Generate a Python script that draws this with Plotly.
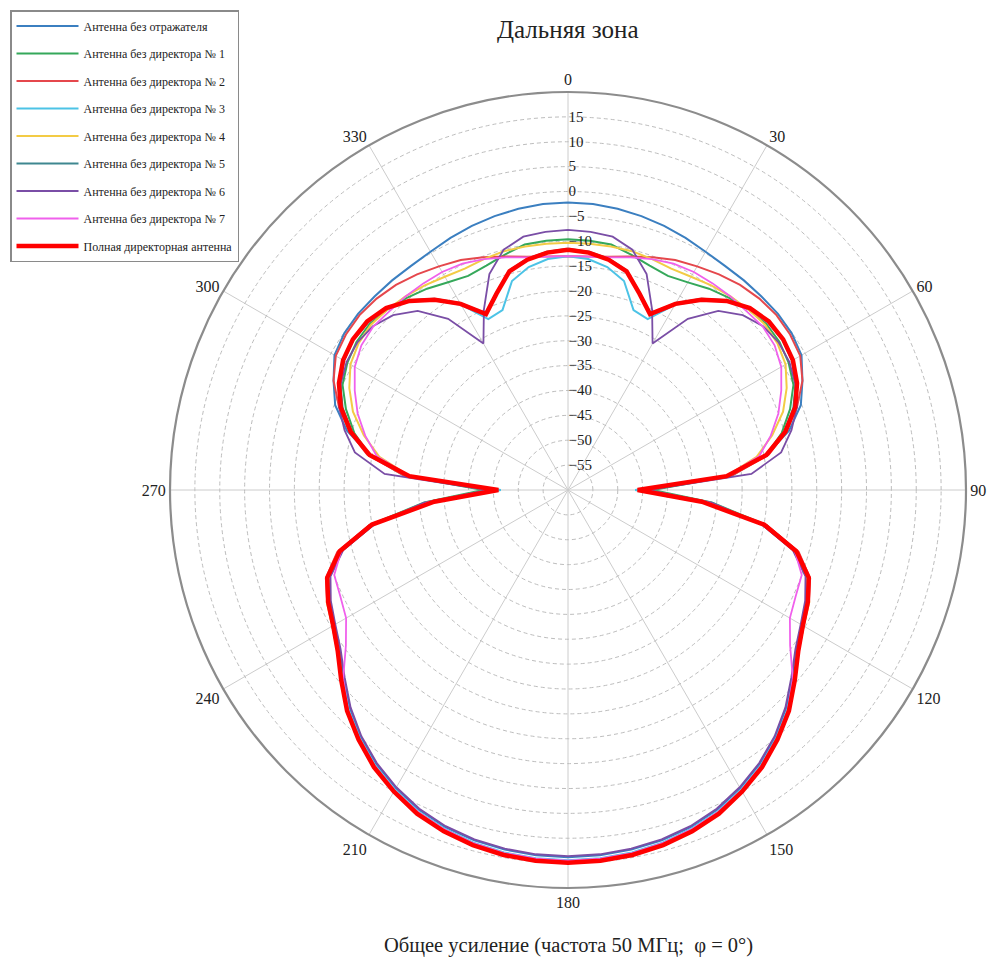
import plotly.graph_objects as go

# Angles (degrees) for right half of the pattern, 0..180 (pattern is symmetric)
ANGLES = list(range(0, 181, 5))

NAMES = [
    "Антенна без отражателя",
    "Антенна без директора № 1",
    "Антенна без директора № 2",
    "Антенна без директора № 3",
    "Антенна без директора № 4",
    "Антенна без директора № 5",
    "Антенна без директора № 6",
    "Антенна без директора № 7",
    "Полная директорная антенна",
]

NO_REFL = [-2.2, -2.3, -2.6, -3.0, -3.5, -4.1, -4.7, -5.0, -5.0, -5.0, -4.9, -5.1, -5.8, -8.0, -10.2, -14.0, -19.5, -28.0, -45.0,
           -32.0, -20.5, -13.0, -9.0, -7.2, -5.8, -4.0, -1.2, 2.0, 4.8, 7.2, 9.2, 10.9, 12.1, 12.9, 13.4, 13.7, 13.8]
DIR1 = [-9.6, -9.7, -9.9, -11.0, -12.0, -12.5, -11.8, -10.6, -9.6, -8.7, -8.0, -8.1, -8.8, -10.0, -12.5, -15.5, -19.5, -27.0, -43.0,
        -31.0, -19.5, -12.3, -8.5, -6.8, -5.5, -3.6, -0.7, 2.6, 5.3, 7.8, 9.8, 11.5, 12.7, 13.6, 14.2, 14.5, 14.6]
DIR2 = [-13.0, -12.9, -12.4, -11.4, -10.2, -9.0, -8.1, -7.1, -6.2, -5.6, -5.3, -5.5, -6.1, -8.0, -11.0, -14.5, -19.0, -27.0, -45.0,
        -32.0, -19.5, -12.0, -8.2, -6.6, -5.3, -3.4, -0.5, 2.8, 5.5, 8.0, 10.0, 11.7, 12.9, 13.8, 14.4, 14.7, 14.8]
DIR3 = [-13.0, -13.4, -14.5, -16.5, -21.5, -22.1, -17.0, -13.5, -10.5, -8.6, -7.6, -7.4, -8.0, -9.5, -11.6, -15.0, -19.8, -28.0, -46.5,
        -33.0, -20.5, -12.8, -8.8, -7.0, -5.7, -3.7, -0.8, 2.4, 5.1, 7.6, 9.6, 11.3, 12.5, 13.4, 14.0, 14.3, 14.4]
DIR4 = [-10.3, -10.3, -10.3, -10.3, -10.6, -10.9, -10.5, -9.8, -9.2, -8.7, -8.3, -8.6, -9.5, -11.5, -14.0, -17.5, -21.5, -28.0, -44.0,
        -31.5, -20.0, -12.8, -8.8, -6.5, -5.3, -3.5, -0.6, 2.6, 5.3, 7.8, 9.8, 11.5, 12.7, 13.6, 14.2, 14.5, 14.6]
DIR5 = [-11.5, -11.9, -12.8, -14.3, -17.8, -20.8, -16.6, -13.1, -10.2, -8.2, -7.3, -7.3, -8.0, -9.5, -11.8, -15.0, -19.5, -27.5, -44.0,
        -32.5, -20.0, -12.6, -8.6, -6.9, -5.6, -3.6, -0.7, 2.6, 5.3, 7.8, 9.8, 11.6, 12.8, 13.7, 14.3, 14.6, 14.7]
DIR6 = [-7.7, -7.9, -8.3, -10.0, -13.8, -20.0, -26.0, -18.0, -13.0, -10.3, -8.8, -8.3, -8.6, -9.6, -11.0, -13.5, -16.5, -23.0, -44.0,
        -31.0, -20.5, -13.2, -9.2, -7.4, -6.0, -4.2, -1.4, 1.8, 4.6, 7.0, 9.0, 10.7, 11.9, 12.7, 13.2, 13.5, 13.6]
DIR7 = [-13.0, -12.9, -12.5, -11.6, -10.6, -9.8, -9.4, -9.3, -9.2, -9.2, -8.9, -9.3, -10.5, -12.7, -15.0, -17.8, -21.0, -28.0, -45.0,
        -32.0, -20.0, -12.8, -10.0, -9.5, -8.5, -5.5, -1.0, 2.5, 5.2, 7.7, 9.7, 11.4, 12.6, 13.5, 14.1, 14.4, 14.5]
FULL = [-11.7, -12.1, -13.0, -14.5, -18.0, -21.0, -16.8, -13.3, -10.4, -8.3, -7.3, -7.2, -7.8, -9.2, -11.4, -14.8, -19.5, -28.0, -46.0,
        -33.0, -20.0, -12.5, -8.5, -6.8, -5.5, -3.5, -0.5, 2.8, 5.5, 8.0, 10.0, 11.8, 13.0, 13.9, 14.5, 14.8, 14.9]

SERIES = [NO_REFL, DIR1, DIR2, DIR3, DIR4, DIR5, DIR6, DIR7, FULL]
COLORS = ["#3b7fc0", "#35a85a", "#e5474c", "#4cc3e6", "#f3cb45", "#3f8790", "#7a4ea6", "#f060ec", "#ff0000"]
WIDTHS = [2, 2, 2, 2, 2, 2, 1.8, 1.8, 4.5]

RADIAL_TICKS = list(range(-55, 20, 5))
ANGULAR_TICKS = list(range(0, 360, 30))


def mirror(angles, values):
    th = list(angles) + [360 - a for a in reversed(angles[:-1])]
    rr = list(values) + list(reversed(values[:-1]))
    return th, rr


fig = go.Figure()
for i, (name, vals) in enumerate(zip(NAMES, SERIES)):
    th, rr = mirror(ANGLES, vals)
    fig.add_trace(go.Scatterpolar(
        r=rr, theta=th, mode="lines", name=name,
        legendgroup=str(i),
        line=dict(color=COLORS[i], width=WIDTHS[i]),
    ))

SERIF = "Liberation Serif"
W, H = 987, 966
cx, cy, R = 568, 490, 398

fig.update_layout(
    width=W, height=H,
    margin=dict(l=0, r=0, t=0, b=0),
    paper_bgcolor="white",
    font=dict(family=SERIF, color="#222"),
    polar=dict(
        domain=dict(x=[(cx - R) / W, (cx + R) / W], y=[(H - cy - R) / H, (H - cy + R) / H]),
        bgcolor="white",
        angularaxis=dict(
            rotation=90, direction="clockwise",
            tickmode="array", tickvals=ANGULAR_TICKS,
            ticktext=[str(a) for a in ANGULAR_TICKS],
            showline=True, linecolor="#8c8c8c", linewidth=2.2,
            gridcolor="#cccccc", gridwidth=1,
            ticks="", tickfont=dict(family=SERIF, size=16, color="#222"),
        ),
        radialaxis=dict(
            range=[-60, 20], tickmode="array", tickvals=RADIAL_TICKS,
            angle=90, tickangle=90, side="clockwise",
            showline=False, gridcolor="#bdbdbd", griddash="4px,3px", gridwidth=1.3,
            ticks="", tickfont=dict(family=SERIF, size=15, color="#222"),
        ),
    ),
    legend=dict(
        x=10 / W, y=1 - 10 / H, xanchor="left", yanchor="top",
        bgcolor="white", bordercolor="#8a8a8a", borderwidth=1.5,
        font=dict(family=SERIF, size=12, color="#222"),
        itemwidth=62, tracegroupgap=8.5, traceorder="grouped",
    ),
    annotations=[
        dict(text="Дальняя зона", x=cx / W, y=1 - 30 / H, xref="paper", yref="paper",
             xanchor="center", yanchor="middle", showarrow=False,
             font=dict(family=SERIF, size=25, color="#222")),
        dict(text="Общее усиление (частота 50 МГц;  φ = 0°)", x=cx / W, y=1 - 945 / H,
             xref="paper", yref="paper", xanchor="center", yanchor="middle", showarrow=False,
             font=dict(family=SERIF, size=20.5, color="#222")),
    ],
)

fig.write_html(
    "out.html",
    config={"displayModeBar": False},
    post_script="document.body.style.margin='0';document.body.style.overflow='hidden';",
)
